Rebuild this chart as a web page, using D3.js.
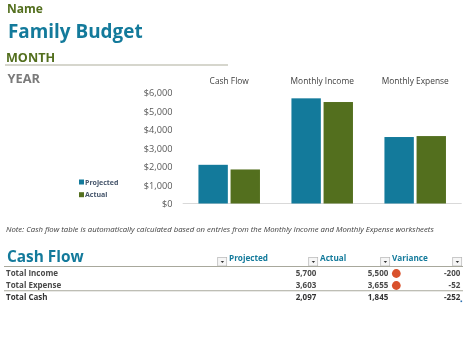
<!DOCTYPE html>
<html>
<head>
<meta charset="utf-8">
<script src="https://cdn.jsdelivr.net/npm/d3@7"></script>
<style>
  html, body { margin: 0; padding: 0; background: #fff; }
  svg { display: block; filter: blur(0.3px); }
  text { font-family: "Open Sans", "Noto Sans", sans-serif; }
</style>
</head>
<body>
<svg id="vis"></svg>
<script>
/* Constantes */
const WIDTH = 474;
const HEIGHT = 363;
const BLUE = "#137a9b";
const GREEN = "#536f1e";
const MARGIN = { top: 92.8, left: 182.7, bottom: 159.5, right: 12.3 };

// Datos del grafico
const categories = ["Cash Flow", "Monthly Income", "Monthly Expense"];
const seriesNames = ["Projected", "Actual"];
const projected = [2097, 5700, 3603];
const actual = [1845, 5500, 3655];
const yTicks = [0, 1000, 2000, 3000, 4000, 5000, 6000];

// Datos de la tabla
const tableHeaders = ["Projected", "Actual", "Variance"];
const rowLabels = ["Total Income", "Total Expense", "Total Cash"];
const rowProjected = ["5,700", "3,603", "2,097"];
const rowActual = ["5,500", "3,655", "1,845"];
const rowVariance = ["-200", "-52", "-252"];
const rowFlag = [true, true, false];

const svg = d3.select("#vis")
  .attr("width", WIDTH)
  .attr("height", HEIGHT);

// Encabezado
const addText = (txt, x, y, size, color, weight) => svg.append("text")
  .text(txt)
  .attr("x", x)
  .attr("y", y)
  .attr("font-size", size)
  .attr("fill", color)
  .attr("font-weight", weight);

addText("Name", 7, 13, 12, GREEN, 700);
addText("Family Budget", 8, 38, 18.9, BLUE, 700);
addText("MONTH", 6, 62, 12.6, GREEN, 700);
addText("YEAR", 7.5, 83, 12.8, "#7a7a7a", 700);

svg.append("line")
  .attr("x1", 5).attr("x2", 228)
  .attr("y1", 65).attr("y2", 65)
  .attr("stroke", "#c9c9bd")
  .attr("stroke-width", 1.3);

// Escalas
const xScale = d3.scaleBand()
  .domain(categories)
  .range([MARGIN.left, WIDTH - MARGIN.right]);

const xInner = d3.scaleBand()
  .domain(seriesNames)
  .range([0, xScale.bandwidth()])
  .paddingInner(0.085)
  .paddingOuter(0.49);

const yScale = d3.scaleLinear()
  .domain([0, 6000])
  .range([HEIGHT - MARGIN.bottom, MARGIN.top]);

// Eje y
const axisY = d3.axisLeft(yScale)
  .tickValues(yTicks)
  .tickSize(0)
  .tickPadding(0)
  .tickFormat(d => `$${d3.format(",")(d)}`);

svg.append("g")
  .attr("id", "axis-y")
  .attr("transform", `translate(172.5 0)`)
  .call(axisY)
  .call(g => g.select(".domain").remove())
  .selectAll("text")
  .attr("font-size", 9.2)
  .attr("fill", "#595959");

// Eje x, con los nombres arriba
const axisX = d3.axisTop(xScale).tickSize(0).tickPadding(0);

svg.append("g")
  .attr("id", "axis-x")
  .attr("transform", `translate(0 84)`)
  .call(axisX)
  .call(g => g.select(".domain").remove())
  .selectAll("text")
  .attr("font-size", 8.4)
  .attr("fill", "#404040");

svg.append("line")
  .attr("x1", MARGIN.left).attr("x2", WIDTH - MARGIN.right)
  .attr("y1", yScale(0)).attr("y2", yScale(0))
  .attr("stroke", "#d9d9d9");

// Barras
[projected, actual].forEach((values, i) => {
  svg.append("g")
    .selectAll("rect")
    .data(values)
    .join("rect")
    .attr("x", (d, j) => xScale(categories[j]) + xInner(seriesNames[i]))
    .attr("y", d => yScale(d))
    .attr("width", xInner.bandwidth())
    .attr("height", d => yScale(0) - yScale(d))
    .attr("fill", i === 0 ? BLUE : GREEN);
});

// Leyenda
seriesNames.forEach((name, i) => {
  const y = 182 + i * 12.7;
  svg.append("rect")
    .attr("x", 79).attr("y", y - 2.5)
    .attr("width", 5).attr("height", 5)
    .attr("fill", i === 0 ? BLUE : GREEN);
  addText(name, 85, y + 2.6, 7, "#44546a", 700);
});

// Nota
addText("Note: Cash flow table is automatically calculated based on entries from the Monthly Income and Monthly Expense worksheets",
  6, 232, 7.75, "#404040", 400)
  .attr("font-style", "italic");

// Tabla
addText("Cash Flow", 7, 262, 15.4, BLUE, 700);

const colLeft = [229, 320, 392];
const buttonX = [217.7, 308.7, 380.7, 452.7];
const rowY = [276, 288, 300];

tableHeaders.forEach((h, i) => {
  addText(h, colLeft[i], 261, 8.2, BLUE, 700);
});

// botones del filtro
buttonX.forEach(x => {
  svg.append("rect")
    .attr("x", x).attr("y", 257.5).attr("width", 9).attr("height", 8.5)
    .attr("fill", "#f6f6f6").attr("stroke", "#b5b5b5").attr("stroke-width", 0.7);
  svg.append("path")
    .attr("d", `M${x + 3},${261} h3.4 l-1.7,2 z`)
    .attr("fill", "#333");
});

[266.5, 290.7].forEach(y => {
  svg.append("line").attr("x1", 4).attr("x2", 463).attr("y1", y).attr("y2", y)
    .attr("stroke", "#a8a89c").attr("stroke-width", 1.1);
});

rowLabels.forEach((label, i) => {
  const color = i === 2 ? "#333333" : "#4a4a4a";
  addText(label, 6, rowY[i], 8, color, 700);
  addText(rowProjected[i], 316.3, rowY[i], 8, color, 700).attr("text-anchor", "end");
  addText(rowActual[i], 388.3, rowY[i], 8, color, 700).attr("text-anchor", "end");
  addText(rowVariance[i], 460.3, rowY[i], 8, color, 700).attr("text-anchor", "end");
  if (rowFlag[i]) {
    svg.append("circle")
      .attr("cx", 396.3).attr("cy", rowY[i] - 2.5).attr("r", 4.4)
      .attr("fill", "#d9512c");
  }
});

// marca de esquina de la tabla
svg.append("rect")
  .attr("x", 460.5).attr("y", 300.5).attr("width", 1.6).attr("height", 1.6)
  .attr("fill", "#2a6fb0");
</script>
</body>
</html>
